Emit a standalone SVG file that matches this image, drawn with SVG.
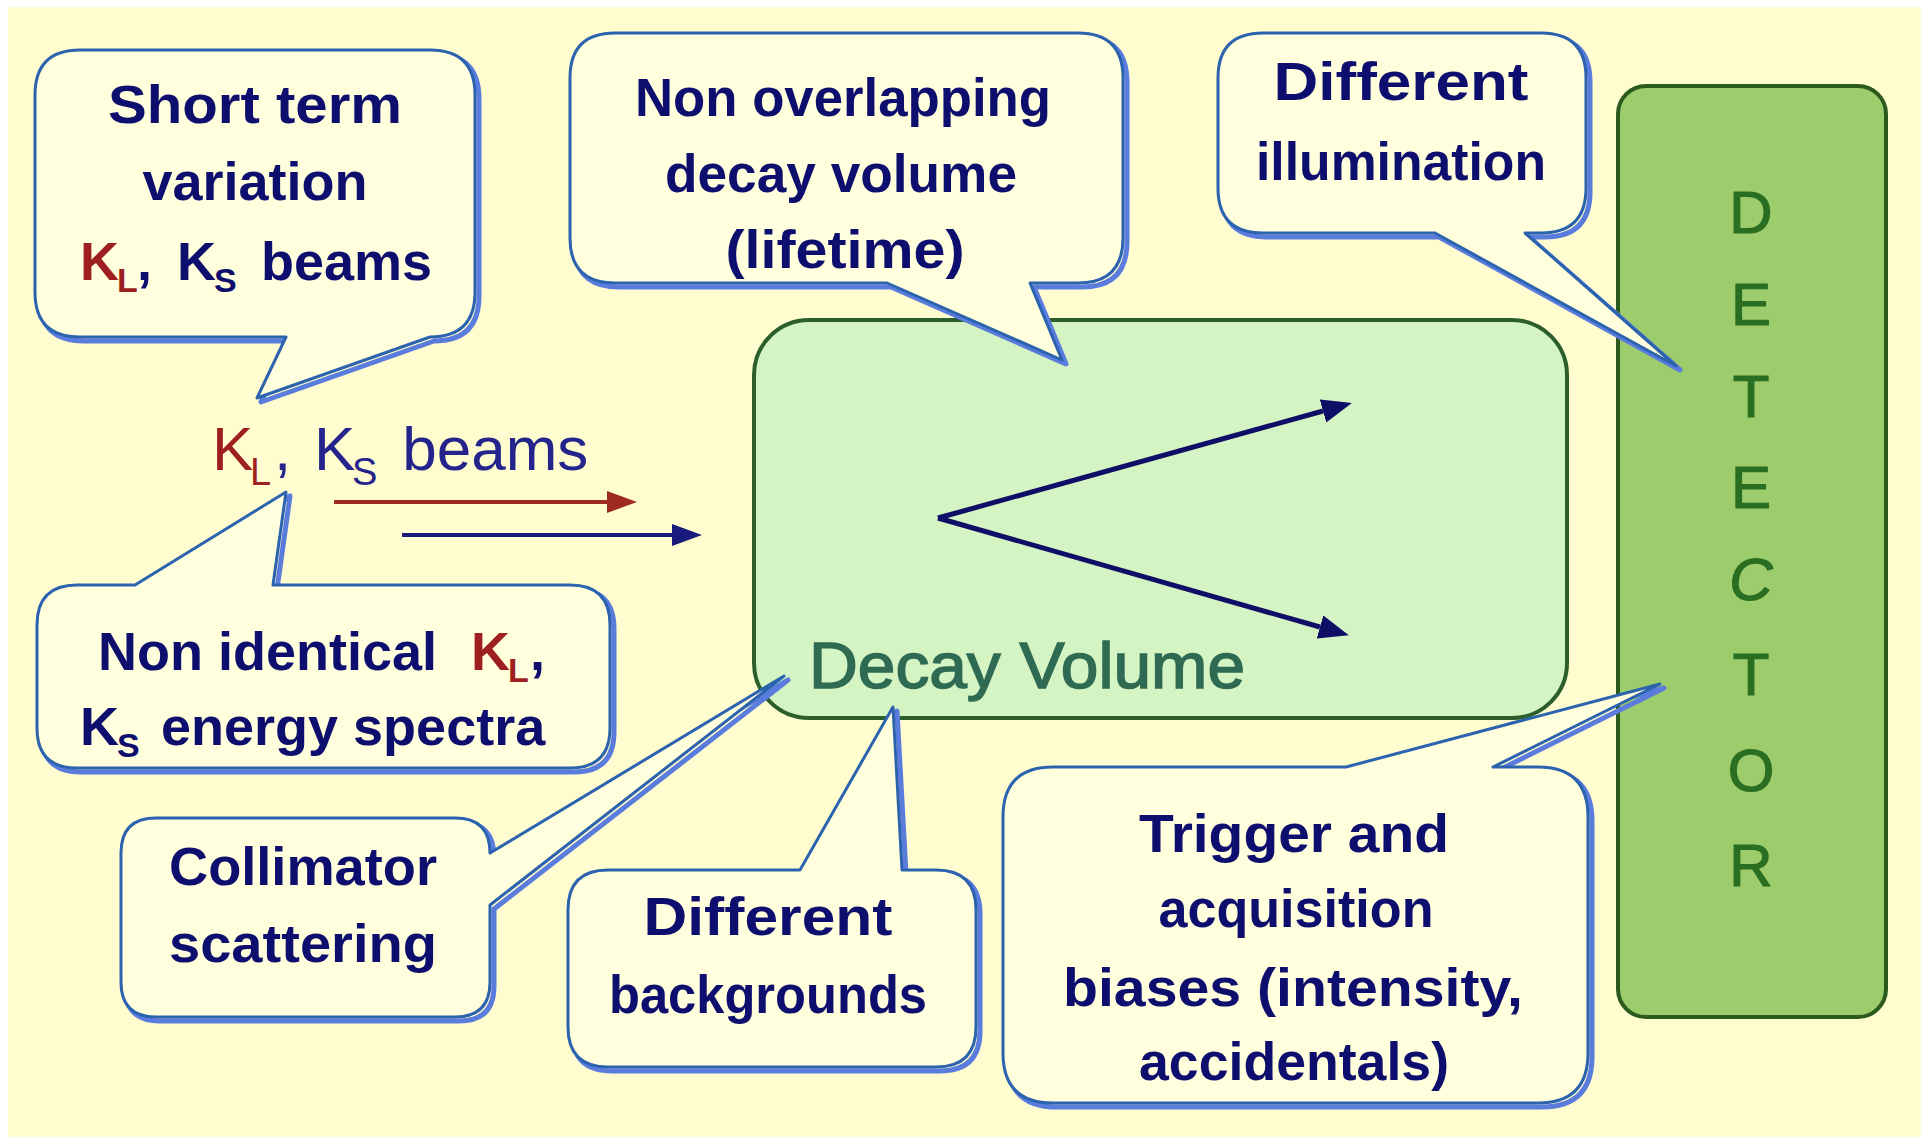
<svg xmlns="http://www.w3.org/2000/svg" width="1921" height="1137" viewBox="0 0 1921 1137">
<defs>
<style>
.bg{fill:#FFFCD0}
.bub{fill:#FFFEDD;stroke:#2C63AE;stroke-width:3;stroke-linejoin:round}
.shd{fill:none;stroke:#5A7CDD;stroke-width:5;stroke-linejoin:round}
.t{font-family:"Liberation Sans",Arial,sans-serif;font-weight:bold;font-size:54px;fill:#0E0E6E;text-anchor:middle}
.ts{font-family:"Liberation Sans",Arial,sans-serif;font-weight:bold;font-size:54px;fill:#0E0E6E}
.red{fill:#9E1F1F}
.sub{font-size:34px}
.bsub{font-size:38px}
.dv{fill:#D5F4C4;stroke:#2B5E2B;stroke-width:4}
.det{fill:#9CCC6C;stroke:#2B5A1E;stroke-width:4}
.dett{font-family:"Liberation Sans",Arial,sans-serif;font-size:60px;fill:#2A6E22;stroke:#2A6E22;stroke-width:1.2;text-anchor:middle}
.dvt{font-family:"Liberation Sans",Arial,sans-serif;font-size:64px;fill:#2F6A52;stroke:#2F6A52;stroke-width:1.5}
.beam{font-family:"Liberation Sans",Arial,sans-serif;font-size:62px;fill:#24248C}
.ar{stroke:#9E2A22;stroke-width:4;fill:none}
.ab{stroke:#1A1A7C;stroke-width:4;fill:none}
.ad{stroke:#0E0E66;stroke-width:5;fill:none}
</style>
<marker id="hr" markerUnits="userSpaceOnUse" markerWidth="30" markerHeight="22" refX="0" refY="11" orient="auto"><path d="M0,0 L30,11 L0,22 Z" fill="#9E2A22"/></marker>
<marker id="hb" markerUnits="userSpaceOnUse" markerWidth="30" markerHeight="22" refX="0" refY="11" orient="auto"><path d="M0,0 L30,11 L0,22 Z" fill="#1A1A7C"/></marker>
<marker id="hd" markerUnits="userSpaceOnUse" markerWidth="30" markerHeight="24" refX="0" refY="12" orient="auto"><path d="M0,0 L30,12 L0,24 Z" fill="#0E0E66"/></marker>
</defs>
<rect width="1921" height="1137" fill="#FFFFFF"/>
<rect class="bg" x="8" y="7" width="1913" height="1130"/>

<g id="decay-volume">
<rect class="dv" x="754" y="320" width="813" height="398" rx="55" ry="55"/>
<text class="dvt" x="809" y="688" textLength="436" lengthAdjust="spacingAndGlyphs">Decay Volume</text>
</g>

<g id="detector">
<rect class="det" x="1618" y="86" width="268" height="931" rx="28" ry="28"/>
<text class="dett"><tspan x="1751" y="233">D</tspan><tspan x="1751" y="325">E</tspan><tspan x="1751" y="417">T</tspan><tspan x="1751" y="508">E</tspan><tspan x="1751" y="600" font-style="italic">C</tspan><tspan x="1751" y="695">T</tspan><tspan x="1751" y="791">O</tspan><tspan x="1751" y="886">R</tspan></text>
</g>

<g id="beam-label">
<text class="beam" x="212" y="470"><tspan class="red">K</tspan><tspan class="red bsub" x="250" dy="15">L</tspan><tspan x="274" dy="-15">, </tspan><tspan x="314">K</tspan><tspan class="bsub" x="352" dy="15">S</tspan><tspan x="385" dy="-15"> beams</tspan></text>
</g>

<g id="connectors">
<line class="ar" x1="334" y1="502" x2="607" y2="502" marker-end="url(#hr)"/>
<line class="ab" x1="402" y1="535" x2="672" y2="535" marker-end="url(#hb)"/>
<line class="ad" x1="938" y1="518" x2="1323" y2="411" marker-end="url(#hd)"/>
<line class="ad" x1="938" y1="518" x2="1320" y2="627" marker-end="url(#hd)"/>
</g>

<g id="bubble-short-term">
<path class="shd" transform="translate(4,4)" d="M80,50 H430 Q475,50 475,95 V292 Q475,337 430,337 L257,398 L286,337 H80 Q35,337 35,292 V95 Q35,50 80,50 Z"/>
<path class="bub" d="M80,50 H430 Q475,50 475,95 V292 Q475,337 430,337 L257,398 L286,337 H80 Q35,337 35,292 V95 Q35,50 80,50 Z"/>
<text class="t" x="255" y="123" textLength="294" lengthAdjust="spacingAndGlyphs">Short term</text>
<text class="t" x="255" y="200" textLength="225" lengthAdjust="spacingAndGlyphs">variation</text>
<text class="ts" x="80" y="280"><tspan class="red">K</tspan><tspan class="red sub" x="117" dy="12">L</tspan><tspan x="137" dy="-12">, </tspan><tspan x="177">K</tspan><tspan class="sub" x="214" dy="12">S</tspan><tspan x="246" dy="-12"> beams</tspan></text>
</g>

<g id="bubble-non-overlapping">
<path class="shd" transform="translate(4,4)" d="M615,33 H1078 Q1123,33 1123,78 V238 Q1123,283 1078,283 H1030 L1062,360 L887,283 H615 Q570,283 570,238 V78 Q570,33 615,33 Z"/>
<path class="bub" d="M615,33 H1078 Q1123,33 1123,78 V238 Q1123,283 1078,283 H1030 L1062,360 L887,283 H615 Q570,283 570,238 V78 Q570,33 615,33 Z"/>
<text class="t" x="843" y="116" textLength="416" lengthAdjust="spacingAndGlyphs">Non overlapping</text>
<text class="t" x="841" y="192" textLength="352" lengthAdjust="spacingAndGlyphs">decay volume</text>
<text class="t" x="845" y="268" textLength="239" lengthAdjust="spacingAndGlyphs">(lifetime)</text>
</g>

<g id="bubble-illumination">
<path class="shd" transform="translate(4,4)" d="M1263,33 H1541 Q1586,33 1586,78 V188 Q1586,233 1541,233 H1525 L1676,366 L1435,233 H1263 Q1218,233 1218,188 V78 Q1218,33 1263,33 Z"/>
<path class="bub" d="M1263,33 H1541 Q1586,33 1586,78 V188 Q1586,233 1541,233 H1525 L1676,366 L1435,233 H1263 Q1218,233 1218,188 V78 Q1218,33 1263,33 Z"/>
<text class="t" x="1401" y="100" textLength="255" lengthAdjust="spacingAndGlyphs">Different</text>
<text class="t" x="1401" y="180" textLength="290" lengthAdjust="spacingAndGlyphs">illumination</text>
</g>

<g id="bubble-energy-spectra">
<path class="shd" transform="translate(4,4)" d="M77,585 H135 L286,492 L273,585 H570 Q610,585 610,625 V728 Q610,768 570,768 H77 Q37,768 37,728 V625 Q37,585 77,585 Z"/>
<path class="bub" d="M77,585 H135 L286,492 L273,585 H570 Q610,585 610,625 V728 Q610,768 570,768 H77 Q37,768 37,728 V625 Q37,585 77,585 Z"/>
<text class="ts" x="98" y="670">Non identical <tspan class="red" x="471">K</tspan><tspan class="red sub" x="508" dy="12">L</tspan><tspan x="530" dy="-12">,</tspan></text>
<text class="ts" x="80" y="745">K<tspan class="sub" x="117" dy="12">S</tspan><tspan x="146" dy="-12"> energy spectra</tspan></text>
</g>

<g id="bubble-collimator">
<path class="shd" transform="translate(4,4)" d="M156,818 H455 Q490,818 490,853 L784,676 L490,905 V982 Q490,1017 455,1017 H156 Q121,1017 121,982 V853 Q121,818 156,818 Z"/>
<path class="bub" d="M156,818 H455 Q490,818 490,853 L784,676 L490,905 V982 Q490,1017 455,1017 H156 Q121,1017 121,982 V853 Q121,818 156,818 Z"/>
<text class="t" x="303" y="885" textLength="268" lengthAdjust="spacingAndGlyphs">Collimator</text>
<text class="t" x="303" y="962" textLength="268" lengthAdjust="spacingAndGlyphs">scattering</text>
</g>

<g id="bubble-backgrounds">
<path class="shd" transform="translate(4,4)" d="M608,870 H800 L893,707 L902,870 H936 Q976,870 976,910 V1027 Q976,1067 936,1067 H608 Q568,1067 568,1027 V910 Q568,870 608,870 Z"/>
<path class="bub" d="M608,870 H800 L893,707 L902,870 H936 Q976,870 976,910 V1027 Q976,1067 936,1067 H608 Q568,1067 568,1027 V910 Q568,870 608,870 Z"/>
<text class="t" x="768" y="935" textLength="249" lengthAdjust="spacingAndGlyphs">Different</text>
<text class="t" x="768" y="1013" textLength="318" lengthAdjust="spacingAndGlyphs">backgrounds</text>
</g>

<g id="bubble-trigger">
<path class="shd" transform="translate(4,4)" d="M1053,767 H1346 L1660,684 L1493,767 H1538 Q1588,767 1588,817 V1053 Q1588,1103 1538,1103 H1053 Q1003,1103 1003,1053 V817 Q1003,767 1053,767 Z"/>
<path class="bub" d="M1053,767 H1346 L1660,684 L1493,767 H1538 Q1588,767 1588,817 V1053 Q1588,1103 1538,1103 H1053 Q1003,1103 1003,1053 V817 Q1003,767 1053,767 Z"/>
<text class="t" x="1294" y="852" textLength="310" lengthAdjust="spacingAndGlyphs">Trigger and</text>
<text class="t" x="1296" y="927" textLength="275" lengthAdjust="spacingAndGlyphs">acquisition</text>
<text class="t" x="1293" y="1006" textLength="460" lengthAdjust="spacingAndGlyphs">biases (intensity,</text>
<text class="t" x="1294" y="1080" textLength="310" lengthAdjust="spacingAndGlyphs">accidentals)</text>
</g>
</svg>
